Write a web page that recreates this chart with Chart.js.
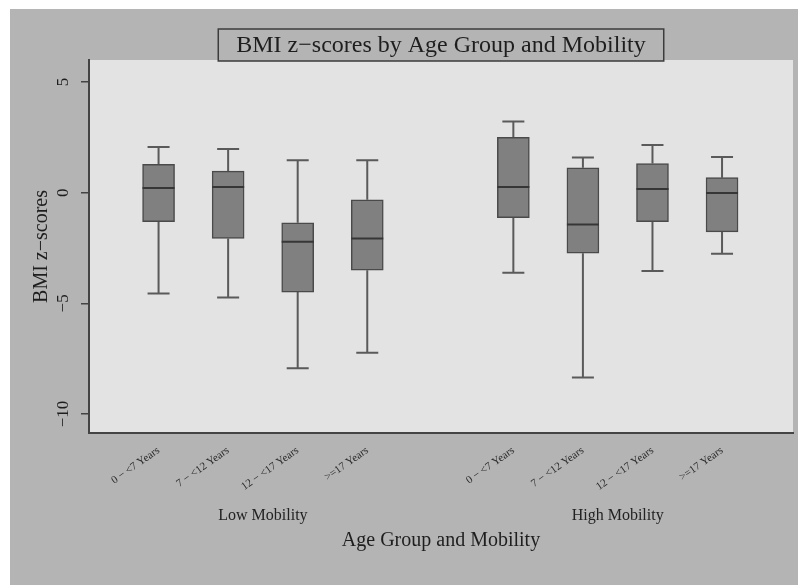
<!DOCTYPE html>
<html>
<head>
<meta charset="utf-8">
<title>BMI z-scores by Age Group and Mobility</title>
<script src="https://cdn.jsdelivr.net/npm/chart.js@4/dist/chart.umd.min.js"></script>
<style>
  html, body { margin: 0; padding: 0; background: #ffffff; }
  canvas { display: block; }
</style>
</head>
<body>
<canvas id="chart" width="798" height="585"></canvas>
<script>
// Age groups (repeated for each mobility group) and their slots on the x axis
const ageLabels = ['0 \u2212 <7 Years', '7 \u2212 <12 Years', '12 \u2212 <17 Years', '>=17 Years',
                   '0 \u2212 <7 Years', '7 \u2212 <12 Years', '12 \u2212 <17 Years', '>=17 Years'];
const slots = [1, 2, 3, 4, 6.1, 7.1, 8.1, 9.1];
const groupNames = ['Low Mobility', 'High Mobility'];
const groupCentres = [2.5, 7.6];

// Five-number summaries of BMI z-scores per box
const whiskerHigh = [2.07, 1.98, 1.47, 1.47, 3.22, 1.59, 2.16, 1.62];
const upperQuartile = [1.28, 0.98, -1.36, -0.32, 2.51, 1.13, 1.32, 0.68];
const medians = [0.21, 0.26, -2.21, -2.07, 0.26, -1.44, 0.17, -0.01];
const lowerQuartile = [-1.31, -2.07, -4.49, -3.50, -1.13, -2.73, -1.31, -1.77];
const whiskerLow = [-4.55, -4.74, -7.93, -7.23, -3.62, -8.35, -3.54, -2.76];

const yTicks = [-10, -5, 0, 5];

const SERIF = '"Liberation Serif", "DejaVu Serif", serif';

const boxes = slots.map((x, i) => ({ x: x, y: [lowerQuartile[i], upperQuartile[i]] }));

// Page backgrounds, panel, whiskers, medians, title box and group captions
const boxplotDecor = {
  id: 'boxplotDecor',
  beforeDraw(chart) {
    const { ctx, chartArea: a } = chart;
    ctx.save();
    ctx.fillStyle = '#ffffff';
    ctx.fillRect(0, 0, chart.width, chart.height);
    ctx.fillStyle = '#b4b4b4';
    ctx.fillRect(10, 9, chart.width - 10, chart.height - 9);
    ctx.fillStyle = '#e3e3e3';
    ctx.fillRect(a.left, a.top, a.right - a.left, a.bottom - a.top);
    ctx.restore();
  },
  beforeDatasetsDraw(chart) {
    const { ctx, scales: { x, y } } = chart;
    ctx.save();
    ctx.strokeStyle = '#5a5a5a';
    ctx.lineWidth = 2;
    slots.forEach((s, i) => {
      const px = x.getPixelForValue(s);
      const segs = [[upperQuartile[i], whiskerHigh[i]], [lowerQuartile[i], whiskerLow[i]]];
      segs.forEach(([from, to]) => {
        const y0 = y.getPixelForValue(from);
        const y1 = y.getPixelForValue(to);
        ctx.beginPath();
        ctx.moveTo(px, y0);
        ctx.lineTo(px, y1);
        ctx.moveTo(px - 11, y1);
        ctx.lineTo(px + 11, y1);
        ctx.stroke();
      });
    });
    ctx.restore();
  },
  afterDatasetsDraw(chart) {
    const { ctx, scales: { x, y } } = chart;
    ctx.save();
    ctx.strokeStyle = '#363636';
    ctx.lineWidth = 2;
    slots.forEach((s, i) => {
      const px = x.getPixelForValue(s);
      const py = y.getPixelForValue(medians[i]);
      ctx.beginPath();
      ctx.moveTo(px - 16, py);
      ctx.lineTo(px + 16, py);
      ctx.stroke();
    });
    ctx.restore();
  },
  afterDraw(chart) {
    const { ctx, chartArea: a, scales: { x } } = chart;
    ctx.save();
    // title in a framed box straddling the top of the panel
    const title = 'BMI z\u2212scores by Age Group and Mobility';
    ctx.font = '24px ' + SERIF;
    const tw = ctx.measureText(title).width;
    const cx = (a.left + a.right) / 2;
    const bw = tw + 36, bh = 32;
    const bx = cx - bw / 2, by = a.top - 31;
    ctx.fillStyle = '#b4b4b4';
    ctx.fillRect(bx, by, bw, bh);
    ctx.strokeStyle = '#3c3c3c';
    ctx.lineWidth = 1.5;
    ctx.strokeRect(bx, by, bw, bh);
    ctx.fillStyle = '#1e1e1e';
    ctx.textAlign = 'center';
    ctx.textBaseline = 'middle';
    ctx.fillText(title, cx, by + bh / 2 + 1);
    // mobility group captions under the age labels
    ctx.font = '16px ' + SERIF;
    ctx.fillStyle = '#222222';
    groupNames.forEach((g, i) => {
      ctx.fillText(g, x.getPixelForValue(groupCentres[i]), x.top + 83);
    });
    ctx.restore();
  }
};

new Chart(document.getElementById('chart'), {
  type: 'bar',
  data: {
    datasets: [{
      data: boxes,
      backgroundColor: '#808080',
      borderColor: '#4a4a4a',
      borderWidth: 1.5,
      borderSkipped: false,
      barThickness: 32
    }]
  },
  options: {
    responsive: false,
    animation: false,
    devicePixelRatio: 1,
    layout: { padding: { left: 10, top: 60, right: 5, bottom: 0 } },
    plugins: {
      legend: { display: false },
      tooltip: { enabled: false },
      title: { display: false }
    },
    scales: {
      x: {
        type: 'linear',
        offset: false,
        min: 0,
        max: 10.12,
        afterBuildTicks(scale) {
          scale.ticks = slots.map(v => ({ value: v }));
        },
        afterFit(scale) { scale.height = 152; },
        grid: { display: false, offset: false },
        border: { display: true, color: '#444444', width: 2 },
        ticks: {
          autoSkip: false,
          minRotation: 35,
          maxRotation: 35,
          padding: 3,
          color: '#2a2a2a',
          font: { family: SERIF, size: 11 },
          callback: (value, index) => ageLabels[index]
        },
        title: {
          display: true,
          text: 'Age Group and Mobility',
          color: '#1e1e1e',
          font: { family: SERIF, size: 20 },
          padding: { top: 0, bottom: 32 }
        }
      },
      y: {
        min: -10.86,
        max: 6,
        afterBuildTicks(scale) {
          scale.ticks = yTicks.map(v => ({ value: v }));
        },
        afterFit(scale) { scale.width = 79; },
        grid: {
          drawOnChartArea: false,
          drawTicks: true,
          tickLength: 8,
          color: '#444444',
          lineWidth: 1.5
        },
        border: { display: true, color: '#444444', width: 2 },
        ticks: {
          minRotation: 90,
          maxRotation: 90,
          crossAlign: 'center',
          padding: 4,
          color: '#1e1e1e',
          font: { family: SERIF, size: 17 },
          callback: v => String(v).replace('-', '\u2212')
        },
        title: {
          display: true,
          text: 'BMI z\u2212scores',
          color: '#1e1e1e',
          font: { family: SERIF, size: 20 },
          padding: { top: 20, bottom: 0 }
        }
      }
    }
  },
  plugins: [boxplotDecor]
});
</script>
</body>
</html>
